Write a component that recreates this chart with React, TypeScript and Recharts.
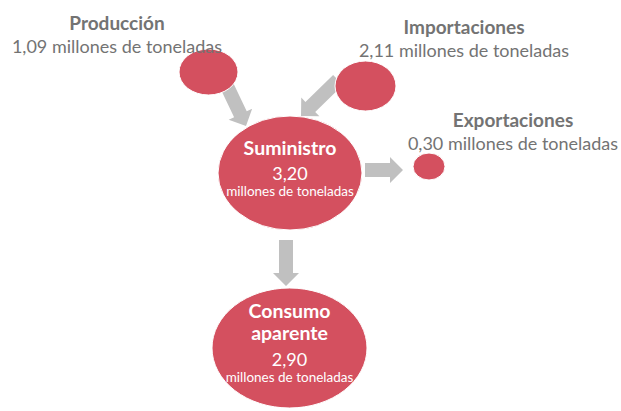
import React from 'react';
import { ScatterChart, Scatter, XAxis, YAxis } from 'recharts';

// ---- data ----
const nodeNames = ['Producción', 'Importaciones', 'Suministro', 'Exportaciones', 'Consumo aparente'];
const nodeValues = [1.09, 2.11, 3.2, 0.3, 2.9];
const unitLabel = 'millones de toneladas';
const flowFrom = ['Producción', 'Importaciones', 'Suministro', 'Suministro'];
const flowTo = ['Suministro', 'Suministro', 'Exportaciones', 'Consumo aparente'];

// ---- layout (chart coordinates) ----
const W = 621;
const H = 411;
const nodeLayout: Record<string, any> = {
  'Producción': { x: 208.5, y: 72, rx: 29.5, ry: 23, outside: true, lx: 117, ly: 30 },
  'Importaciones': { x: 365.5, y: 86, rx: 30.5, ry: 25, outside: true, lx: 464, ly: 34 },
  'Exportaciones': { x: 429, y: 166.5, rx: 16, ry: 13.5, outside: true, lx: 513, ly: 127 },
  'Suministro': { x: 290, y: 173, rx: 72, ry: 57, outside: false, lines: [155], valueY: 180, unitY: 196 },
  'Consumo aparente': { x: 289.5, y: 348, rx: 77.5, ry: 60, outside: false, lines: [318, 340], valueY: 366, unitY: 382 },
};
const arrowLayout = [
  { x1: 226, y1: 84, x2: 246, y2: 126 },
  { x1: 338, y1: 80, x2: 301, y2: 116 },
  { x1: 365, y1: 170, x2: 403, y2: 170 },
  { x1: 286, y1: 240, x2: 286, y2: 286 },
];

const RED = '#d4505f';
const GREY_TEXT = '#737373';
const ARROW = '#c0c0c0';
const FONT = 'Lato, "Open Sans", sans-serif';

const fmt = (v: number) => v.toFixed(2).replace('.', ',');

const nodeData = nodeNames.map((name, i) => ({
  name,
  value: nodeValues[i],
  x: nodeLayout[name].x,
  y: nodeLayout[name].y,
}));

const arrowData = flowFrom.map((f, i) => ({
  from: f,
  to: flowTo[i],
  x: arrowLayout[i].x1,
  y: arrowLayout[i].y1,
  x2: arrowLayout[i].x2,
  y2: arrowLayout[i].y2,
}));

const ArrowShape = (props: any) => {
  const { cx, cy, payload } = props;
  if (cx == null || cy == null) return null;
  const dx = payload.x2 - payload.x;
  const dy = payload.y2 - payload.y;
  const len = Math.sqrt(dx * dx + dy * dy);
  const ang = (Math.atan2(dy, dx) * 180) / Math.PI;
  const sw = 7; // half shaft
  const hw = 13; // half head
  const hl = 13; // head length
  const pts = [
    [0, -sw],
    [len - hl, -sw],
    [len - hl, -hw],
    [len, 0],
    [len - hl, hw],
    [len - hl, sw],
    [0, sw],
  ]
    .map((p) => p.join(','))
    .join(' ');
  return <polygon points={pts} fill={ARROW} transform={`translate(${cx},${cy}) rotate(${ang})`} />;
};

const NodeShape = (props: any) => {
  const { cx, cy, payload } = props;
  if (cx == null || cy == null) return null;
  const L = nodeLayout[payload.name];
  const words = payload.name.split(' ');
  return (
    <g>
      <ellipse cx={cx} cy={cy} rx={L.rx} ry={L.ry} fill={RED} stroke="#ffffff" strokeWidth={1} />
      {L.outside ? (
        <g fontFamily={FONT} fill={GREY_TEXT} textAnchor="middle">
          <text x={L.lx} y={L.ly} fontSize={19} fontWeight="bold">
            {payload.name}
          </text>
          <text x={L.lx} y={L.ly + 23} fontSize={18}>
            {`${fmt(payload.value)} ${unitLabel}`}
          </text>
        </g>
      ) : (
        <g fontFamily={FONT} fill="#ffffff" textAnchor="middle">
          {L.lines.map((ly: number, i: number) => (
            <text key={i} x={cx} y={ly} fontSize={19.5} fontWeight="bold">
              {L.lines.length === 1 ? payload.name : words[i]}
            </text>
          ))}
          <text x={cx} y={L.valueY} fontSize={18}>
            {fmt(payload.value)}
          </text>
          <text x={cx} y={L.unitY} fontSize={13.5}>
            {unitLabel}
          </text>
        </g>
      )}
    </g>
  );
};

export default function App() {
  return (
    <div style={{ position: 'absolute', left: 0, top: 0, width: W, height: H, background: '#ffffff' }}>
      <ScatterChart width={W} height={H} margin={{ top: 0, right: 0, bottom: 0, left: 0 }}>
        <XAxis type="number" dataKey="x" domain={[0, W]} hide allowDataOverflow />
        <YAxis type="number" dataKey="y" domain={[0, H]} reversed hide allowDataOverflow />
        <Scatter data={arrowData} shape={ArrowShape} isAnimationActive={false} legendType="none" />
        <Scatter data={nodeData} shape={NodeShape} isAnimationActive={false} legendType="none" />
      </ScatterChart>
    </div>
  );
}
